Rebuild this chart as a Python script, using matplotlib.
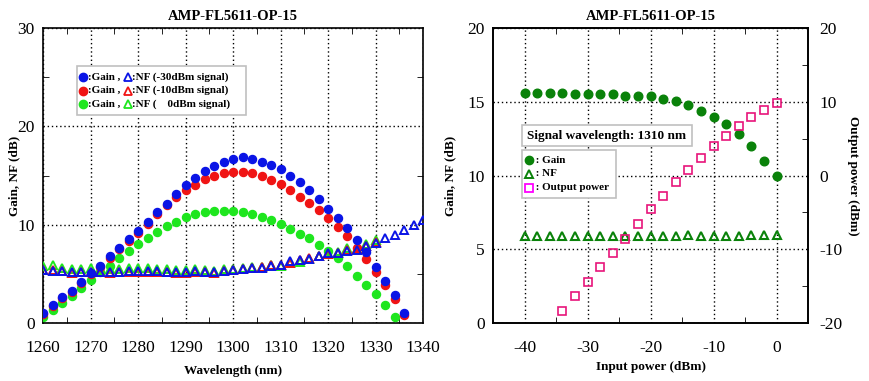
import numpy as np
import matplotlib
matplotlib.use("Agg")
from matplotlib import pyplot as plt
from matplotlib.patches import Rectangle

plt.rcParams["font.family"] = ["Liberation Serif", "DejaVu Serif"]
plt.rcParams["axes.unicode_minus"] = False

# ---- left chart data (wavelength sweep) ----
wl_gain = list(range(1260, 1338, 2))
gain_m30 = [1.0, 1.8, 2.6, 3.3, 4.2, 5.1, 5.8, 6.8, 7.6, 8.5, 9.4, 10.3, 11.3, 12.1, 13.1,
            14.0, 14.7, 15.5, 16.0, 16.4, 16.7, 16.9, 16.7, 16.4, 16.1, 15.7, 15.0, 14.3,
            13.5, 12.6, 11.6, 10.7, 9.7, 8.4, 7.2, 5.7, 4.3, 2.8, 1.0]
gain_m10 = [0.9, 1.7, 2.5, 3.2, 4.1, 5.0, 5.7, 6.6, 7.5, 8.3, 9.2, 10.1, 11.1, 12.0, 12.8,
            13.5, 14.0, 14.6, 14.9, 15.25, 15.4, 15.4, 15.25, 14.9, 14.5, 14.1, 13.5, 12.8,
            12.2, 11.5, 10.7, 9.8, 8.8, 7.6, 6.5, 5.2, 3.9, 2.4, 0.8]
wl_gain0 = list(range(1260, 1336, 2))
gain_0 = [0.6, 1.3, 2.0, 2.7, 3.6, 4.4, 5.2, 5.8, 6.6, 7.3, 8.0, 8.6, 9.3, 9.9, 10.3,
          10.8, 11.1, 11.3, 11.4, 11.4, 11.4, 11.3, 11.1, 10.8, 10.5, 10.1, 9.6, 9.1,
          8.6, 7.9, 7.3, 6.6, 5.8, 4.8, 3.9, 3.0, 1.8, 0.6]

wl_nf = list(range(1260, 1342, 2))
nf_m30 = [5.4, 5.3, 5.3, 5.2, 5.2, 5.2, 5.2, 5.2, 5.2, 5.3, 5.3, 5.3, 5.3, 5.2, 5.2,
          5.2, 5.3, 5.2, 5.2, 5.3, 5.4, 5.5, 5.6, 5.6, 5.8, 5.9, 6.3, 6.4, 6.5, 6.8,
          7.1, 7.1, 7.3, 7.4, 7.8, 8.1, 8.6, 9.0, 9.5, 10.0, 10.5]
wl_nf2 = list(range(1260, 1332, 2))
nf_m10 = [5.4, 5.4, 5.3, 5.1, 5.2, 5.2, 5.2, 5.1, 5.2, 5.2, 5.2, 5.2, 5.2, 5.2, 5.1,
          5.1, 5.2, 5.2, 5.1, 5.3, 5.4, 5.5, 5.6, 5.7, 5.9, 5.9, 6.1, 6.4, 6.6, 6.8,
          7.0, 7.1, 7.4, 7.5, 7.8, 8.2]
nf_0 = [5.8, 5.9, 5.6, 5.5, 5.5, 5.6, 5.4, 5.5, 5.5, 5.6, 5.6, 5.6, 5.5, 5.5, 5.4,
        5.4, 5.5, 5.4, 5.3, 5.5, 5.5, 5.6, 5.7, 5.7, 5.9, 5.8, 6.1, 6.2, 6.5, 6.8,
        7.0, 7.2, 7.6, 7.5, 8.0, 8.4]

# ---- right chart data (input power sweep, 1310 nm) ----
pin = list(range(-40, 2, 2))
gain_p = [15.6, 15.6, 15.6, 15.6, 15.55, 15.55, 15.55, 15.55, 15.4, 15.4, 15.4, 15.2,
          15.05, 14.8, 14.4, 14.0, 13.5, 12.8, 12.0, 11.0, 10.0]
nf_p = [5.9, 5.9, 5.9, 5.9, 5.9, 5.9, 5.9, 5.9, 5.9, 5.9, 5.9, 5.9, 5.9,
        6.0, 5.9, 5.9, 5.9, 5.9, 6.0, 5.95, 6.0]
pin_out = list(range(-34, 2, 2))
pout = [-18.4, -16.4, -14.45, -12.45, -10.5, -8.6, -6.6, -4.6, -2.8, -0.9,
        0.8, 2.4, 4.0, 5.4, 6.7, 7.9, 8.9, 9.8]

BLUE = "#0a14e6"
RED = "#f01414"
GREEN = "#1ee61e"
DGREEN = "#0a820a"
PINK = "#e8147a"

W, H = 869, 381
fig = plt.figure(figsize=(W / 100, H / 100), dpi=100)
L1 = (43, 28, 423, 323)   # left, top, right, bottom in px
L2 = (493, 28, 808, 323)
ax1 = fig.add_axes([L1[0] / W, 1 - L1[3] / H, (L1[2] - L1[0]) / W, (L1[3] - L1[1]) / H])
ax2 = fig.add_axes([L2[0] / W, 1 - L2[3] / H, (L2[2] - L2[0]) / W, (L2[3] - L2[1]) / H])


def px(box, x, y):
    # pixel position -> axes fraction
    return (x - box[0]) / (box[2] - box[0]), (box[3] - y) / (box[3] - box[1])


def style_axis(ax):
    ax.tick_params(which="both", direction="in", top=True, right=True, labelsize=12.5)
    ax.tick_params(which="major", length=0)
    ax.tick_params(axis="x", which="major", pad=12)
    ax.tick_params(axis="y", which="major", pad=6)
    ax.tick_params(which="minor", length=4)
    ax.grid(True, which="major", ls=(0, (1, 2)), color="black", lw=1.0)
    for s in ax.spines.values():
        s.set_linewidth(1.2)


# LEFT
ms = 5.8
ax1.plot(wl_gain0, gain_0, "o", ms=ms, color=GREEN, mec=GREEN, zorder=3)
ax1.plot(wl_gain, gain_m10, "o", ms=ms, color=RED, mec=RED, zorder=4)
ax1.plot(wl_gain, gain_m30, "o", ms=ms, color=BLUE, mec=BLUE, zorder=5)
tms = 6.2
ax1.plot(wl_nf2, nf_0, "^", ms=tms, mfc="none", mec=GREEN, mew=1.4, zorder=3)
ax1.plot(wl_nf2, nf_m10, "^", ms=tms, mfc="none", mec=RED, mew=1.4, zorder=4)
ax1.plot(wl_nf, nf_m30, "^", ms=tms, mfc="none", mec=BLUE, mew=1.4, zorder=5)
ax1.set_xlim(1260, 1340)
ax1.set_ylim(0, 30)
ax1.set_xticks(range(1260, 1350, 10))
ax1.set_xticks(range(1265, 1340, 10), minor=True)
ax1.set_yticks([0, 10, 20, 30])
ax1.set_yticks([5, 15, 25], minor=True)
style_axis(ax1)
ax1.set_xlabel("Wavelength (nm)", fontsize=9.5, fontweight="bold", labelpad=7)
ax1.set_ylabel("Gain, NF (dB)", fontsize=9.5, fontweight="bold", labelpad=-2)
ax1.set_title("AMP-FL5611-OP-15", fontsize=10.5, fontweight="bold", pad=6)

# left legend box
bx0, by0 = px(L1, 77, 115)
bx1, by1 = px(L1, 246, 66)
ax1.add_patch(Rectangle((bx0, by0), bx1 - bx0, by1 - by0, transform=ax1.transAxes,
                        fc="white", ec="#c0c0c0", lw=1.2, zorder=6))
leg_rows = [(BLUE, "-30dBm signal)", 77), (RED, "-10dBm signal)", 90.5),
            (GREEN, "    0dBm signal)", 104)]
for c, lab, ypx in leg_rows:
    mx, yy = px(L1, 83, ypx)
    ax1.plot([mx], [yy], "o", ms=6, color=c, transform=ax1.transAxes, zorder=7,
             clip_on=False)
    tx, _ = px(L1, 88, ypx)
    ax1.text(tx, yy, ":Gain ,", transform=ax1.transAxes, fontsize=8,
             fontweight="bold", va="center", zorder=7)
    mx2, _ = px(L1, 128, ypx)
    ax1.plot([mx2], [yy], "^", ms=6, mfc="none", mec=c, mew=1.3,
             transform=ax1.transAxes, zorder=7, clip_on=False)
    tx2, _ = px(L1, 132, ypx)
    ax1.text(tx2, yy, ":NF (" + lab, transform=ax1.transAxes, fontsize=8,
             fontweight="bold", va="center", zorder=7)

# RIGHT
ax2.plot(pin, gain_p, "o", ms=6.2, color=DGREEN, zorder=4)
ax2.plot(pin, nf_p, "^", ms=6.2, mfc="none", mec=DGREEN, mew=1.5, zorder=4)
ax2.set_xlim(-45, 5)
ax2.set_ylim(0, 20)
ax2.set_xticks([-40, -30, -20, -10, 0])
ax2.set_xticks([-35, -25, -15, -5], minor=True)
ax2.set_yticks([0, 5, 10, 15, 20])
style_axis(ax2)
ax2.tick_params(which="both", right=False)
ax2.set_xlabel("Input power (dBm)", fontsize=9.5, fontweight="bold", labelpad=4)
ax2.set_ylabel("Gain, NF (dB)", fontsize=9.5, fontweight="bold", labelpad=8)
ax2.set_title("AMP-FL5611-OP-15", fontsize=10.5, fontweight="bold", pad=6)

ax3 = ax2.twinx()
ax3.plot(pin_out, pout, "s", ms=6, mfc="none", mec=PINK, mew=1.2, zorder=5)
ax3.set_ylim(-20, 20)
ax3.set_yticks([-20, -10, 0, 10, 20])
ax3.set_yticks([-15, -5, 5, 15], minor=True)
ax3.tick_params(which="both", direction="in", labelsize=12.5)
ax3.tick_params(which="major", length=0, pad=8)
ax3.tick_params(which="minor", length=4)
ax3.set_ylabel("Output power (dBm)", fontsize=9.5, fontweight="bold", rotation=270,
               labelpad=12)
for s in ax3.spines.values():
    s.set_linewidth(1.2)

# signal wavelength box
sx0, sy0 = px(L2, 522, 146)
sx1, sy1 = px(L2, 692, 125)
ax3.add_patch(Rectangle((sx0, sy0), sx1 - sx0, sy1 - sy0, transform=ax3.transAxes,
                        fc="white", ec="#c0c0c0", lw=1.2, zorder=6))
ax3.text((sx0 + sx1) / 2, (sy0 + sy1) / 2, "Signal wavelength: 1310 nm",
         transform=ax3.transAxes, fontsize=9.5, fontweight="bold", ha="center",
         va="center", zorder=8)

# right legend box
rx0, ry0 = px(L2, 522, 198)
rx1, ry1 = px(L2, 616, 150)
ax3.add_patch(Rectangle((rx0, ry0), rx1 - rx0, ry1 - ry0, transform=ax3.transAxes,
                        fc="white", ec="#c0c0c0", lw=1.2, zorder=6))
r_items = [("o", dict(color=DGREEN), " : Gain", 160),
           ("^", dict(mfc="none", mec=DGREEN, mew=1.4), " : NF", 173.5),
           ("s", dict(mfc="none", mec="#ff00ff", mew=1.3), " : Output power", 187.5)]
for m, kw, lab, ypx in r_items:
    mx, yy = px(L2, 529, ypx)
    ax3.plot([mx], [yy], m, ms=6, transform=ax3.transAxes, zorder=7,
             clip_on=False, **kw)
    tx, _ = px(L2, 533, ypx)
    ax3.text(tx, yy, lab, transform=ax3.transAxes, fontsize=8,
             fontweight="bold", va="center", zorder=7)

fig.savefig("out.png", dpi=100)
